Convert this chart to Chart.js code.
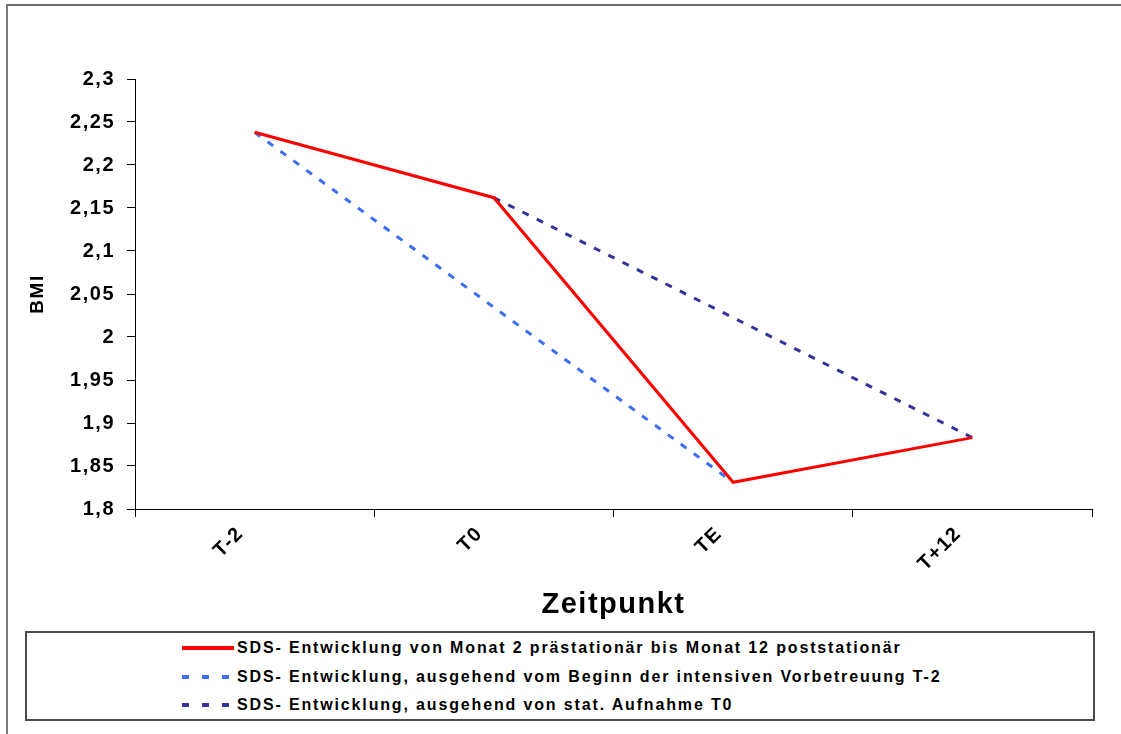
<!DOCTYPE html>
<html lang="de">
<head>
<meta charset="utf-8">
<title>BMI Zeitpunkt</title>
<script src="https://cdn.jsdelivr.net/npm/chart.js@4/dist/chart.umd.min.js"></script>
<style>
    html, body {
        margin: 0;
        padding: 0;
        background: #ffffff;
        overflow: hidden;
        width: 1121px;
        height: 734px;
        font-family: "Liberation Sans", Arial, sans-serif;
    }
    .chart-frame {
        position: absolute;
        left: 6px;
        top: 4px;
        width: 1300px;
        height: 900px;
        border-left: 2px solid #7a7a7a;
        border-top: 2px solid #6a6a6a;
    }
    .chart-wrap {
        position: absolute;
        left: 0;
        top: 0;
        width: 1121px;
        height: 630px;
    }
    .legend-box {
        position: absolute;
        left: 25px;
        top: 631px;
        width: 1066px;
        height: 86px;
        border: 2px solid #4a4a4a;
        box-sizing: content-box;
    }
    .legend-list {
        position: absolute;
        left: 155px;
        top: 1px;
    }
    .legend-item {
        display: flex;
        align-items: center;
        height: 28.5px;
        font-size: 16px;
        font-weight: bold;
        letter-spacing: 1.85px;
        color: #000;
        white-space: nowrap;
    }
    .legend-sample {
        width: 52px;
        height: 4px;
        margin-right: 3px;
    }
</style>
</head>
<body>
<div class="chart-frame"></div>
<div class="chart-wrap"><canvas id="bmiChart"></canvas></div>
<div class="legend-box"><div class="legend-list" id="legendList"></div></div>

<script>
// Zeitpunkte (x-Achse)
const categories = ['T-2', 'T0', 'TE', 'T+12'];

// BMI-SDS Werte je Reihe (null = kein Messpunkt, Linie wird durchgezogen)
const seriesNames = [
    'SDS- Entwicklung von Monat 2 prästationär bis Monat 12 poststationär',
    'SDS- Entwicklung, ausgehend vom Beginn der intensiven Vorbetreuung T-2',
    'SDS- Entwicklung, ausgehend von stat. Aufnahme T0'
];
const verlaufGesamt = [2.238, 2.162, 1.831, 1.883];
const verlaufAbT2 = [2.238, null, 1.831, null];
const verlaufAbT0 = [null, 2.162, null, 1.883];

// Achsenbeschriftung y
const yTicks = [1.8, 1.85, 1.9, 1.95, 2, 2.05, 2.1, 2.15, 2.2, 2.25, 2.3];

const seriesColors = ['#ff0000', '#3d6ef0', '#333399'];
const FONT = '"Liberation Sans", Arial, sans-serif';

// Excel-like wide text spacing on the canvas
const textSpacing = {
    id: 'textSpacing',
    beforeLayout(chart) { chart.ctx.letterSpacing = '1.5px'; },
    beforeDraw(chart) { chart.ctx.letterSpacing = '1.5px'; }
};

document.addEventListener('DOMContentLoaded', function() {
    const ctx = document.getElementById('bmiChart');

    const chart = new Chart(ctx, {
        type: 'line',
        data: {
            labels: categories,
            datasets: [
                {
                    label: seriesNames[0],
                    data: verlaufGesamt,
                    borderColor: seriesColors[0],
                    borderWidth: 3,
                    pointRadius: 0,
                    tension: 0
                },
                {
                    label: seriesNames[1],
                    data: verlaufAbT2,
                    borderColor: seriesColors[1],
                    borderWidth: 3,
                    borderDash: [7, 9],
                    pointRadius: 0,
                    spanGaps: true,
                    tension: 0
                },
                {
                    label: seriesNames[2],
                    data: verlaufAbT0,
                    borderColor: seriesColors[2],
                    borderWidth: 3,
                    borderDash: [7, 9],
                    pointRadius: 0,
                    spanGaps: true,
                    tension: 0
                }
            ]
        },
        options: {
            responsive: true,
            maintainAspectRatio: false,
            animation: false,
            layout: {
                padding: { left: 20, top: 79, right: 29, bottom: 0 }
            },
            plugins: {
                legend: { display: false },
                tooltip: { enabled: false }
            },
            scales: {
                x: {
                    offset: true,
                    grid: {
                        offset: true,
                        drawOnChartArea: false,
                        tickLength: 8,
                        color: '#000'
                    },
                    border: { color: '#000', width: 1 },
                    ticks: {
                        color: '#000',
                        minRotation: 45,
                        maxRotation: 45,
                        padding: 5,
                        labelOffset: -14,
                        font: { family: FONT, size: 20, weight: 'bold' }
                    },
                    title: {
                        display: true,
                        text: 'Zeitpunkt',
                        color: '#000',
                        padding: { top: 0, bottom: 8 },
                        font: { family: FONT, size: 29, weight: 'bold' }
                    },
                    afterFit(scale) {
                        scale.height = 121;
                    }
                },
                y: {
                    min: 1.8,
                    max: 2.3,
                    grid: {
                        drawOnChartArea: false,
                        tickLength: 8,
                        color: '#000'
                    },
                    border: { color: '#000', width: 1 },
                    afterBuildTicks(scale) {
                        scale.ticks = yTicks.map(v => ({ value: v }));
                    },
                    ticks: {
                        color: '#000',
                        padding: 12,
                        font: { family: FONT, size: 20, weight: 'bold' },
                        callback: function(value) {
                            return String(Math.round(value * 100) / 100).replace('.', ',');
                        }
                    },
                    title: {
                        display: true,
                        text: 'BMI',
                        color: '#000',
                        padding: { top: 6, bottom: 0 },
                        font: { family: FONT, size: 19, weight: 'bold' }
                    },
                    afterFit(scale) {
                        scale.width = 115;
                    }
                }
            }
        },
        plugins: [textSpacing]
    });

    // Legend, built from the datasets
    const legendList = document.getElementById('legendList');
    chart.data.datasets.forEach(ds => {
        const item = document.createElement('div');
        item.className = 'legend-item';
        const sample = document.createElement('div');
        sample.className = 'legend-sample';
        if (ds.borderDash) {
            sample.style.background = 'repeating-linear-gradient(to right, ' + ds.borderColor +
                ' 0 7px, transparent 7px 20px)';
        } else {
            sample.style.background = ds.borderColor;
        }
        const text = document.createElement('span');
        text.textContent = ds.label;
        item.appendChild(sample);
        item.appendChild(text);
        legendList.appendChild(item);
    });
});
</script>
</body>
</html>
